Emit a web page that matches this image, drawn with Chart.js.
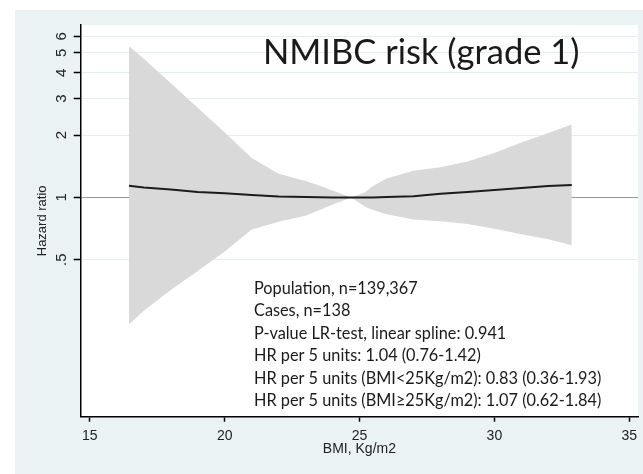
<!DOCTYPE html>
<html>
<head>
<meta charset="utf-8">
<script src="https://cdn.jsdelivr.net/npm/chart.js@4.4.0/dist/chart.umd.min.js"></script>
<style>
  html, body { margin: 0; padding: 0; background: #fff; }
  #wrap { position: absolute; left: 15px; top: 10px; width: 628px; height: 464px; background: #eaf2f3; }
</style>
</head>
<body>
<div id="wrap"><canvas id="myChart" width="628" height="464"></canvas></div>
<script>
// spline estimate of hazard ratio by BMI, with 95% CI
const bmi   = [16.45, 17, 18, 19, 20, 21, 22, 23, 23.5, 24, 24.7, 25.2, 25.5, 26, 27, 28, 29, 30, 31, 32, 32.87];
const hr    = [1.138, 1.116, 1.091, 1.063, 1.046, 1.026, 1.011, 1.003, 1.001, 1.0, 1.0, 1.0, 1.0, 1.003, 1.013, 1.040, 1.061, 1.087, 1.11, 1.135, 1.147];
const upper = [5.37, 4.68, 3.56, 2.71, 2.06, 1.55, 1.30, 1.20, 1.14, 1.08, 1.0, 1.06, 1.135, 1.234, 1.345, 1.40, 1.49, 1.64, 1.84, 2.05, 2.25];
const lower = [0.243, 0.283, 0.357, 0.441, 0.548, 0.70, 0.763, 0.816, 0.866, 0.923, 1.0, 0.90, 0.868, 0.830, 0.782, 0.767, 0.744, 0.705, 0.664, 0.627, 0.587];

const xTicks = [15, 20, 25, 30, 35];
const yTicks = [0.5, 1, 2, 3, 4, 5, 6];

const titulo = "NMIBC risk (grade 1)";
const notas = [
  "Population, n=139,367",
  "Cases, n=138",
  "P-value LR-test, linear spline: 0.941",
  "HR per 5 units: 1.04 (0.76-1.42)",
  "HR per 5 units (BMI<25Kg/m2): 0.83 (0.36-1.93)",
  "HR per 5 units (BMI\u226525Kg/m2): 1.07 (0.62-1.84)"
];

const puntos = (arr) => bmi.map((x, i) => ({ x: x, y: arr[i] }));

// white plot region over the light graph background
const fondoPlot = {
  id: "fondoPlot",
  beforeDraw(chart) {
    const a = chart.chartArea;
    const ctx = chart.ctx;
    ctx.save();
    ctx.fillStyle = "#ffffff";
    ctx.fillRect(a.left, a.top, a.right - a.left, a.bottom - a.top);
    ctx.restore();
  }
};

// title and model summary written inside the plot
const textos = {
  id: "textos",
  afterDraw(chart) {
    const ctx = chart.ctx;
    ctx.save();
    ctx.fillStyle = "#1a1a1a";
    ctx.textBaseline = "alphabetic";
    ctx.textAlign = "left";
    ctx.font = "34.5px Lato";
    ctx.fillText(titulo, 248, 54);
    ctx.font = "16.3px Lato";
    notas.forEach((t, i) => {
      ctx.fillText(t, 239, 284 + i * 22.4);
    });
    ctx.restore();
  }
};

const fuente = "'Liberation Sans', Arial, sans-serif";

var my_chart = document.getElementById("myChart");

var hr_chart = new Chart(my_chart, {
  type: "line",
  plugins: [fondoPlot, textos],
  data: {
    datasets: [
      {
        label: "upper",
        data: puntos(upper),
        fill: "+1",
        backgroundColor: "#d9d9d9",
        borderColor: "rgba(0,0,0,0)",
        borderWidth: 0,
        pointRadius: 0,
        order: 2
      },
      {
        label: "lower",
        data: puntos(lower),
        fill: false,
        borderColor: "rgba(0,0,0,0)",
        borderWidth: 0,
        pointRadius: 0,
        order: 2
      },
      {
        label: "HR",
        data: puntos(hr),
        fill: false,
        borderColor: "#1c1c1c",
        borderWidth: 2,
        pointRadius: 0,
        tension: 0,
        order: 1
      }
    ]
  },
  options: {
    responsive: false,
    animation: false,
    layout: { padding: 0, autoPadding: false },
    plugins: {
      legend: { display: false },
      tooltip: { enabled: false }
    },
    scales: {
      x: {
        type: "linear",
        min: 14.66,
        max: 35.33,
        afterBuildTicks: (s) => { s.ticks = xTicks.map((v) => ({ value: v })); },
        afterFit: (s) => { s.height = 57.3; },
        ticks: {
          color: "#222",
          font: { family: fuente, size: 14 },
          padding: 6,
          maxRotation: 0,
          autoSkip: false
        },
        grid: { drawOnChartArea: false, tickColor: "#000", tickLength: 5, tickWidth: 1.5 },
        border: { color: "#000", width: 1.5 },
        title: {
          display: true,
          text: "BMI, Kg/m2",
          color: "#222",
          font: { family: fuente, size: 14 },
          padding: { top: 0, bottom: 16.6 }
        }
      },
      y: {
        type: "logarithmic",
        min: 0.0871,
        max: 6.81,
        afterBuildTicks: (s) => { s.ticks = yTicks.map((v) => ({ value: v })); },
        afterFit: (s) => { s.width = 65.7; },
        ticks: {
          color: "#222",
          font: { family: fuente, size: 15 },
          minRotation: 90,
          maxRotation: 90,
          crossAlign: "center",
          padding: 6,
          autoSkip: false,
          callback: (v) => (v === 0.5 ? ".5" : String(v))
        },
        grid: {
          color: (c) => (c.tick && c.tick.value === 1 ? "#999999" : "#e4ecee"),
          lineWidth: 1,
          tickColor: "#000",
          tickLength: 7,
          tickWidth: 1.5
        },
        border: { color: "#000", width: 1.5 },
        title: {
          display: true,
          text: "Hazard ratio",
          color: "#222",
          font: { family: fuente, size: 13 },
          padding: { top: 19.2, bottom: 0 }
        }
      }
    }
  }
});
</script>
</body>
</html>
